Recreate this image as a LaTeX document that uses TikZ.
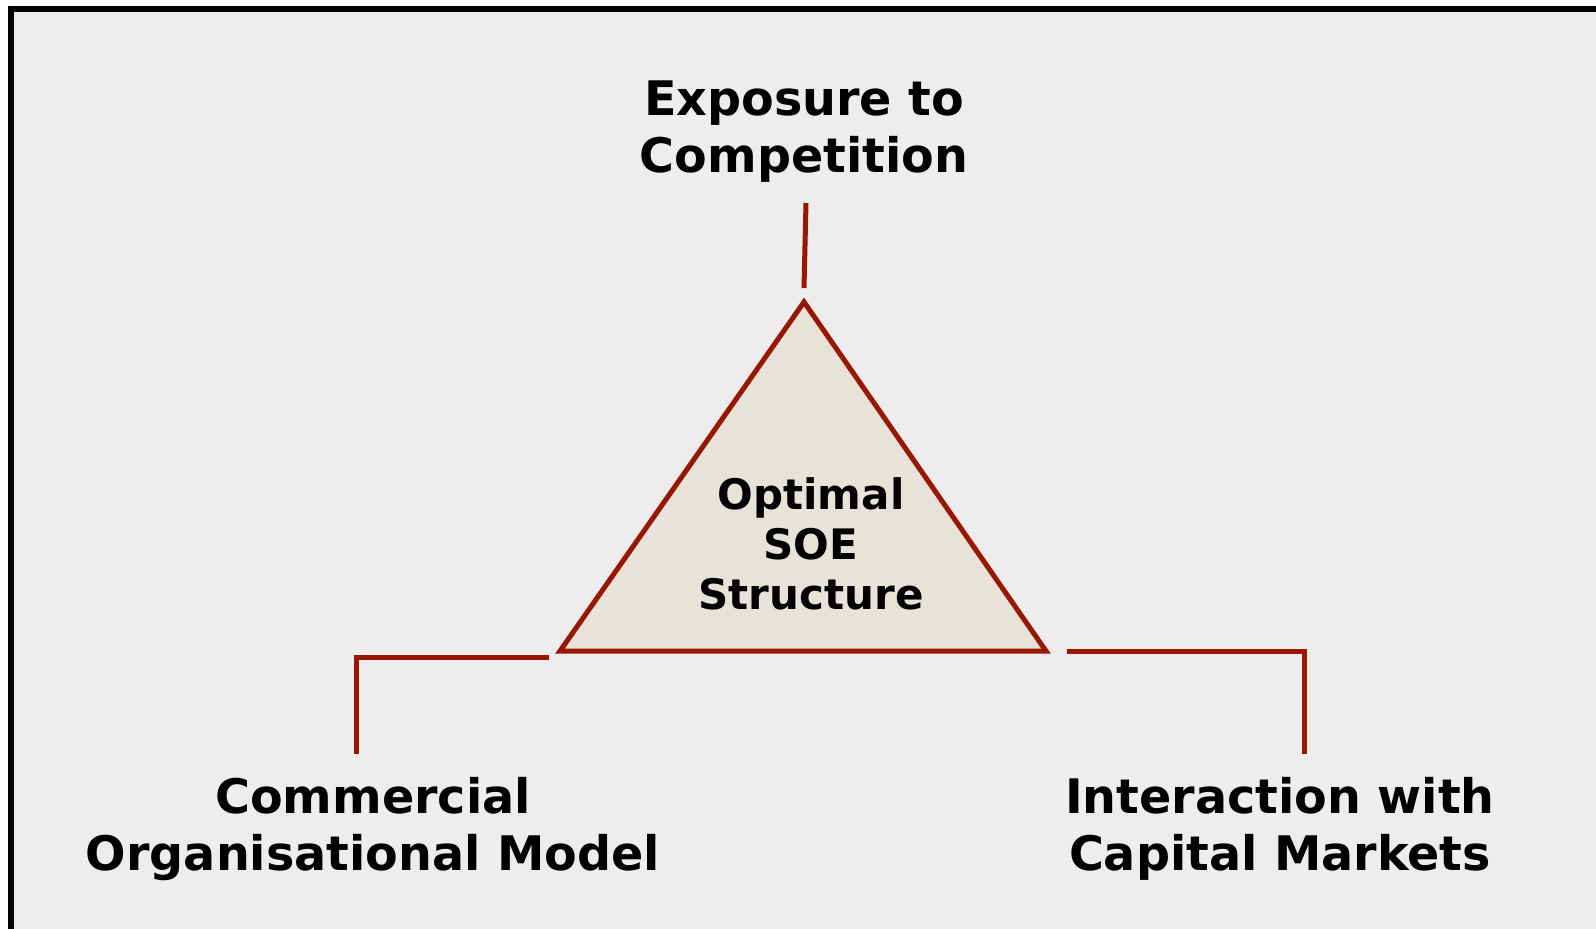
\documentclass[tikz,border=0pt]{standalone}
\usepackage{fontspec}
\setmainfont{DejaVu Sans}
\definecolor{bgc}{RGB}{237,237,237}
\definecolor{trifill}{RGB}{231,227,217}
\definecolor{linec}{RGB}{155,22,0}
\tikzset{
  lbl/.style={font=\bfseries\fontsize{23.8}{28.5}\selectfont, align=center, text=black, inner sep=0pt},
  inlbl/.style={font=\bfseries\fontsize{21}{25}\selectfont, align=center, text=black, inner sep=0pt},
  conn/.style={draw=linec, line width=2.5pt},
  tri/.style={draw=linec, fill=trifill, line width=2.5pt, line join=miter}
}
\begin{document}
\begin{tikzpicture}[x=0.5pt,y=-0.5pt]
\useasboundingbox (0,0) rectangle (1596,928);
\fill[white] (0,0) rectangle (1596,928);
\fill[bgc] (10.5,8.5) rectangle (1610,940);
\draw[black, line width=3pt] (1610,8.5) -- (10.5,8.5) -- (10.5,940);
% triangle
\coordinate (apex) at (804,302);
\coordinate (bl) at (560,651);
\coordinate (br) at (1046,651);
\draw[tri] (apex) -- (bl) -- (br) -- cycle;
\node[inlbl] (center) at (811,544) {Optimal\\SOE\\Structure};
% labels
\node[lbl] (top) at (804,132) {Exposure to\\Competition};
\node[lbl] (left) at (373,829) {Commercial\\Organisational Model};
\node[lbl] (right) at (1280,829) {Interaction with\\Capital Markets};
% connectors
\coordinate (t1) at (806,203);
\coordinate (t2) at (804,288);
\draw[conn] (t1) -- (t2);
\coordinate (l1) at (549,657);
\coordinate (l2) at (356,657);
\coordinate (l3) at (356,754);
\draw[conn] (l1) -- (l2) -- (l3);
\coordinate (r1) at (1067,651);
\coordinate (r2) at (1304,651);
\coordinate (r3) at (1304,754);
\draw[conn] (r1) -- (r2) -- (r3);
\end{tikzpicture}
\end{document}
